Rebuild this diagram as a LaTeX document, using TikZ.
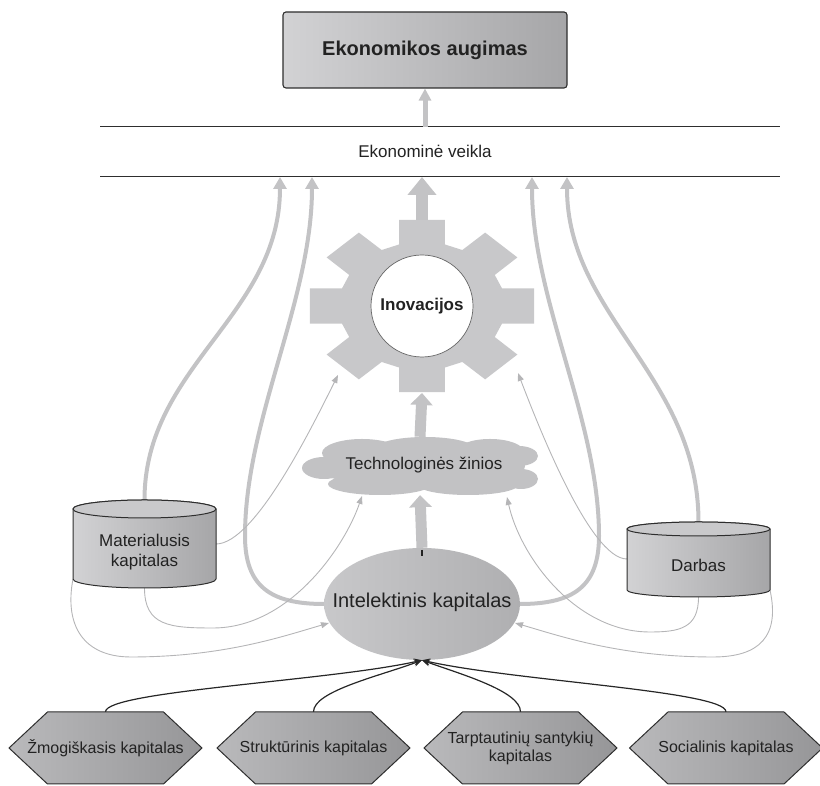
\documentclass[tikz,border=0pt]{standalone}
\usepackage{fontspec}
\setmainfont{Liberation Sans}
\usetikzlibrary{arrows.meta,shapes.geometric,backgrounds}

\definecolor{ink}{HTML}{222222}
\definecolor{rim}{HTML}{2E2E2E}
\definecolor{flowthick}{HTML}{C3C3C5}
\definecolor{flowthin}{HTML}{B5B5B7}
\definecolor{cogfill}{HTML}{C8C8CA}
\definecolor{shadeL}{HTML}{D2D2D4}
\definecolor{shadeR}{HTML}{A6A6A8}
\definecolor{hexL}{HTML}{B9B9BB}
\definecolor{hexR}{HTML}{969698}
\definecolor{cloudfill}{HTML}{C2C2C4}
\definecolor{ovalL}{HTML}{C8C8CA}
\definecolor{ovalR}{HTML}{AFAFB1}

% drum (cylinder) around a centre coordinate:
% #1 centre, #2 top offset, #3 bottom offset, #4 half width, #5 end radius
\newcommand{\drum}[5]{%
  \path[left color=shadeL,right color=shadeR,draw=rim,line width=1pt]
    ([shift={(-#4,#2)}]#1) -- ([shift={(-#4,#3)}]#1)
    arc[start angle=180,end angle=360,x radius=#4,y radius=#5]
    -- ([shift={(#4,#2)}]#1)
    arc[start angle=0,end angle=180,x radius=#4,y radius=#5] -- cycle;
  \draw[rim,line width=1pt,fill=shadeL!80!shadeR]
    ([shift={(0,#2)}]#1) ellipse[x radius=#4,y radius=#5];
}

% flat-topped hexagon plate with its label node: #1 name, #2 centre, #3 text
\newcommand{\plate}[3]{%
  \path[left color=hexL,right color=hexR,draw=rim,line width=1pt,shift={#2}]
    (-96.5,0) -- (-58,36) -- (58,36) -- (96.5,0) -- (58,-36) -- (-58,-36) -- cycle;
  \node[hexlbl,minimum width=116pt,minimum height=72pt] (#1) at #2 {#3};
}

\begin{document}
\begin{tikzpicture}[x=1pt,y=1pt,
  goalbox/.style={draw=rim,line width=1.1pt,rounded corners=3pt,
    left color=shadeL,right color=shadeR,minimum width=284pt,minimum height=76pt,
    text=ink,font=\fontsize{20}{24}\selectfont\bfseries},
  hline/.style={draw=rim,line width=1pt},
  lbl/.style={text=ink,inner sep=0pt,align=center},
  flow/.style={draw=flowthick,line width=4pt,-{Triangle[width=13pt,length=12pt]}},
  faint/.style={draw=flowthin,line width=0.9pt,-{Triangle[width=6pt,length=8pt]}},
  feed/.style={draw=black!85,line width=1.2pt,-{Stealth[width=7pt,length=8pt]}},
  hexlbl/.style={inner sep=0pt,text=ink,align=center,font=\fontsize{16}{18}\selectfont}
]
\useasboundingbox (0,0) rectangle (820,786);

% ---- outcome and the activity band
\node[goalbox] (goal) at (425,736) {Ekonomikos augimas};
\coordinate (r1w) at (100,659); \coordinate (r1e) at (780,659);
\coordinate (r2w) at (100,609); \coordinate (r2e) at (780,609);
\draw[hline] (r1w) -- (r1e);
\draw[hline] (r2w) -- (r2e);
\node[lbl,font=\fontsize{17}{20}\selectfont] (act) at (425,635) {Ekonominė veikla};
\coordinate (actTop) at (425,659);
\draw[draw=flowthick,line width=5pt,-{Triangle[width=12pt,length=12pt]}] (actTop) -- (goal.south);

% ---- cog wheel
\fill[cogfill,shift={(422,480)},xscale=1.3] (-16:64)
  \foreach \a in {0,45,...,315}{ -- (\a-16:64) -- (\a-11.5:88) -- (\a+11.5:88) -- (\a+16:64)} -- cycle;
\coordinate (cogTop) at (422,566);
\coordinate (cogBot) at (422,393);
\coordinate (cogLL) at (338,411);
\coordinate (cogLR) at (518,413);
\coordinate (t1) at (280,609);
\coordinate (t2) at (312,609);
\coordinate (tg) at (422,609);
\coordinate (t3) at (532,609);
\coordinate (t4) at (567,609);
\draw[draw=flowthick,line width=12pt,-{Triangle[width=28pt,length=18pt]}] (cogTop) -- (tg);
\node[circle,draw=gray!80!black,line width=0.7pt,fill=white,minimum size=102pt,inner sep=0pt,
  text=ink,font=\fontsize{17}{20}\selectfont\bfseries] (inov) at (422,480) {Inovacijos};

% ---- technological knowledge: a cloud built from overlapping puffs
\begin{scope}[cloudfill]
  \fill (420,320) ellipse[x radius=105,y radius=22];
  \fill (362,333) ellipse[x radius=40,y radius=14];
  \fill (425,337) ellipse[x radius=50,y radius=12];
  \fill (490,334) ellipse[x radius=34,y radius=13];
  \fill (324,318) ellipse[x radius=22,y radius=11];
  \fill (519,330) ellipse[x radius=19,y radius=10];
  \fill (521,307) ellipse[x radius=17,y radius=10];
  \fill (380,302) ellipse[x radius=52,y radius=11];
  \fill (468,301) ellipse[x radius=50,y radius=10];
\end{scope}
\node[ellipse,minimum width=235pt,minimum height=58pt,inner sep=0pt] (tech) at (420,320) {};
\node[lbl,font=\fontsize{17}{20}\selectfont] (techtxt) at (424,321) {Technologinės žinios};
\coordinate (techL) at (362,290);
\coordinate (techR) at (507,289);
\draw[draw=flowthick,line width=11pt,-{Triangle[width=22pt,length=12pt]}] (tech.north) -- (cogBot);

% ---- intellectual capital
\node[ellipse,minimum width=196pt,minimum height=112pt,inner sep=0pt,
  left color=ovalL,right color=ovalR] (ik) at (422,182) {};
\node[lbl,font=\fontsize{20}{24}\selectfont] (iktxt) at (422,184) {Intelektinis kapitalas};
\coordinate (ikL) at (329,163);
\coordinate (ikR) at (515,163);
\draw[draw=flowthick,line width=11pt,-{Triangle[width=22pt,length=12pt]}] (ik.north) -- (tech.south);
\draw[ink,line width=1.2pt] (ik.north) ++(0,-2) -- ++(0,-6);

% ---- material capital and labour
\coordinate (matc) at (144.5,234);
\drum{matc}{43}{-27}{71.5}{9}
\node[lbl,font=\fontsize{17}{20}\selectfont] (mat) at (matc) {Materialusis\\kapitalas};
\coordinate (matTop) at (144.5,286);
\coordinate (matB) at (144.5,198);
\coordinate (matR) at (216,242);
\coordinate (matLB) at (73,207);

\coordinate (darc) at (698.5,221);
\drum{darc}{36}{-25}{71.5}{7}
\node[lbl,font=\fontsize{17}{20}\selectfont] (dar) at (darc) {Darbas};
\coordinate (darTop) at (698.5,264);
\coordinate (darB) at (698.5,189);
\coordinate (darL) at (627,227);
\coordinate (darRB) at (770,196);

% ---- components of intellectual capital
\plate{h1}{(105.5,38)}{Žmogiškasis kapitalas}
\plate{h2}{(313.5,38)}{Struktūrinis kapitalas}
\plate{h3}{(520.5,38)}{Tarptautinių santykių\\kapitalas}
\plate{h4}{(726,38)}{Socialinis kapitalas}

\draw[feed] (h1.north) .. controls (106,95) and (330,105) .. (ik.south);
\draw[feed] (h2.north) .. controls (313.5,95) and (380,110) .. (ik.south);
\draw[feed] (h3.north) .. controls (520.5,95) and (460,112) .. (ik.south);
\draw[feed] (h4.north) .. controls (726,95) and (514,105) .. (ik.south);

% ---- flows into economic activity and between the blocks
\begin{pgfonlayer}{background}
\draw[flow] (matTop) .. controls (144.5,420) and (280,470) .. (t1);
\draw[flow] (ik.west) .. controls (270,182) and (245,200) .. (245,250)
  .. controls (245,366) and (312,486) .. (t2);
\draw[flow] (ik.east) .. controls (574,182) and (599,200) .. (599,250)
  .. controls (599,366) and (532,486) .. (t3);
\draw[flow] (darTop) .. controls (698.5,410) and (567,470) .. (t4);

\draw[faint] (matR) .. controls (255,242) and (313,361) .. (cogLL);
\draw[faint] (darL) .. controls (590,227) and (538,361) .. (cogLR);
\draw[faint] (matB) .. controls (144.5,160) and (170,158) .. (213,158)
  .. controls (290,158) and (345,240) .. (techL);
\draw[faint] (darB) .. controls (698.5,158) and (680,154) .. (650,154)
  .. controls (575,154) and (520,230) .. (techR);
\draw[faint] (matLB) .. controls (64,160) and (84,129) .. (131,129)
  .. controls (224,129) and (284,150) .. (ikL);
\draw[faint] (darRB) .. controls (780,150) and (760,129) .. (713,129)
  .. controls (620,129) and (560,150) .. (ikR);
\end{pgfonlayer}
\end{tikzpicture}
\end{document}
